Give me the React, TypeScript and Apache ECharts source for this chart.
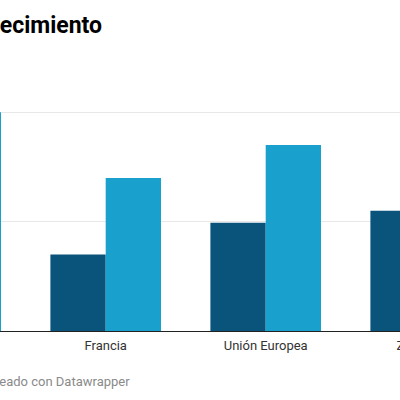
import React, { useEffect, useRef } from "react";
import * as echarts from "echarts";

const categories = ["Alemania", "Francia", "Unión Europea", "Zona euro"];
const seriesDark = [1.9, 0.7, 0.99, 1.1];
const seriesLight = [2.0, 1.4, 1.7, 1.8];
const seriesNames = ["Anterior", "Actual"];
const yTicks = { min: 0, max: 2, interval: 1 };
const titleText = "Crecimiento";
const footerText = "Creado con Datawrapper";

const OFFSET = 200;

export default function App() {
  const ref = useRef<HTMLDivElement>(null);
  useEffect(() => {
    if (!ref.current) return;
    const chart = echarts.init(ref.current, undefined, { renderer: "svg" });
    chart.setOption({
      animation: false,
      backgroundColor: "#ffffff",
      textStyle: { fontFamily: "Roboto" },
      grid: { left: OFFSET - 134.3, top: 112.3, width: 640, bottom: 69, containLabel: false },
      xAxis: {
        type: "category",
        data: categories,
        axisLine: { show: true, lineStyle: { color: "#222", width: 1 } },
        axisTick: { show: false },
        axisLabel: { color: "#333", fontSize: 13, margin: 8, fontFamily: "Roboto" },
      },
      yAxis: {
        type: "value",
        min: yTicks.min,
        max: yTicks.max,
        interval: yTicks.interval,
        axisLine: { show: false },
        axisTick: { show: false },
        axisLabel: { color: "#333", fontSize: 12 },
        splitLine: { lineStyle: { color: "#e8e8e8", width: 1 } },
      },
      series: [
        {
          name: seriesNames[0],
          type: "bar",
          data: seriesDark,
          barWidth: 55.3,
          barGap: "0%",
          itemStyle: { color: "#0a547b" },
          silent: true,
        },
        {
          name: seriesNames[1],
          type: "bar",
          data: seriesLight,
          barWidth: 55.3,
          barGap: "0%",
          itemStyle: { color: "#1aa0cd" },
          silent: true,
        },
      ],
      graphic: [
        {
          type: "text",
          x: OFFSET - 23.5,
          y: 25,
          style: {
            text: titleText,
            font: "bold 23px Roboto",
            fill: "#000",
            verticalAlign: "middle",
            align: "left",
          },
        },
        {
          type: "text",
          x: OFFSET - 13.5,
          y: 381.5,
          style: {
            text: footerText,
            font: "13px Roboto",
            fill: "#8a8a8a",
            verticalAlign: "middle",
            align: "left",
          },
        },
      ],
    });
    return () => chart.dispose();
  }, []);
  return (
    <div style={{ position: "fixed", left: 0, top: 0, width: 400, height: 400, overflow: "hidden", background: "#fff" }}>
      <div ref={ref} style={{ position: "absolute", left: -OFFSET, top: 0, width: 800, height: 400 }} />
    </div>
  );
}
